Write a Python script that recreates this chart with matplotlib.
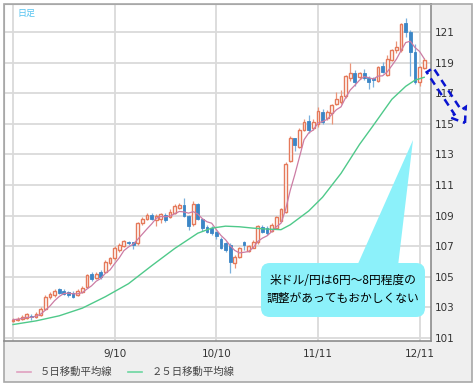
import matplotlib
matplotlib.use('Agg')
import matplotlib.pyplot as plt
import numpy as np
import pandas as pd
from matplotlib.patches import Rectangle, FancyBboxPatch, Polygon, FancyArrow
from matplotlib.lines import Line2D
from matplotlib.transforms import Affine2D

# USD/JPY daily candles, 2014-08-11 .. 2014-12-12
start_date = '2014-08-11'
end_date = '2014-12-12'

opens = [102.12, 102.18, 102.25, 102.30, 102.45, 102.35, 102.50, 102.90, 103.65, 103.80,
         104.20, 104.10, 104.03, 103.95, 103.80, 104.00, 104.35, 105.20, 104.95, 105.33,
         105.33, 105.90, 106.20, 106.75, 107.00, 107.30, 107.25, 107.20, 108.50, 108.80,
         109.05, 108.70, 108.80, 109.05, 108.93, 109.17, 109.50, 109.70, 108.95, 108.45,
         109.75, 108.75, 108.27, 108.17, 107.90, 107.50, 107.20, 107.10, 105.90, 106.30,
         107.25, 106.70, 106.90, 107.25, 108.27, 108.20, 108.00, 108.17, 108.67, 109.25,
         112.60, 114.05, 113.50, 114.60, 115.20, 114.70, 115.00, 115.80, 115.35, 115.70,
         116.30, 116.45, 116.80, 117.97, 118.30, 118.08, 118.30, 117.97, 117.97, 117.80,
         118.80, 118.20, 119.20, 119.80, 119.80, 121.60, 121.00, 119.70, 117.75, 118.65]
highs = [102.30, 102.35, 102.50, 102.65, 102.55, 102.70, 103.00, 103.80, 104.00, 104.20,
         104.30, 104.20, 104.10, 104.05, 104.20, 104.40, 105.20, 105.30, 105.30, 105.45,
         106.10, 106.30, 107.00, 107.20, 107.40, 107.35, 107.30, 108.60, 108.90, 109.20,
         109.15, 109.10, 109.20, 109.15, 109.40, 109.75, 109.85, 110.15, 109.05, 109.95,
         109.85, 108.85, 108.40, 108.30, 108.00, 107.60, 107.30, 107.20, 106.40, 106.95,
         107.35, 107.10, 107.40, 108.40, 108.40, 108.30, 108.50, 109.00, 109.50, 112.50,
         114.20, 114.10, 114.70, 115.30, 115.55, 115.30, 116.10, 115.95, 115.90, 116.30,
         117.10, 117.20, 118.20, 118.95, 118.50, 118.40, 118.55, 118.10, 118.05, 118.80,
         119.05, 119.50, 119.90, 120.40, 121.60, 121.90, 121.10, 120.20, 118.80, 119.30]
lows = [102.05, 102.10, 102.15, 102.25, 102.15, 102.30, 102.45, 102.85, 103.55, 103.70,
        103.85, 103.80, 103.70, 103.60, 103.75, 103.95, 104.30, 104.70, 104.85, 104.85,
        105.25, 105.80, 106.10, 106.65, 106.95, 107.10, 106.80, 107.10, 108.40, 108.70,
        108.70, 108.30, 108.50, 108.60, 108.85, 109.10, 109.40, 108.90, 108.05, 108.35,
        108.70, 108.00, 107.85, 107.75, 107.50, 106.80, 106.60, 105.25, 105.55, 106.20,
        106.75, 106.60, 106.85, 107.15, 107.85, 107.70, 107.90, 108.10, 108.60, 109.15,
        112.50, 113.20, 113.40, 114.50, 114.40, 114.60, 114.80, 115.00, 115.25, 115.00,
        116.20, 116.30, 116.70, 117.80, 117.50, 117.90, 117.85, 117.25, 117.40, 117.70,
        118.30, 118.10, 119.10, 119.60, 119.70, 120.70, 118.10, 117.60, 117.45, 118.55]
closes = [102.20, 102.25, 102.40, 102.55, 102.35, 102.60, 102.90, 103.70, 103.90, 104.10,
          103.95, 103.90, 103.80, 103.70, 104.10, 104.30, 105.10, 104.85, 105.20, 105.00,
          106.00, 106.20, 106.90, 107.10, 107.35, 107.20, 107.10, 108.50, 108.80, 109.05,
          108.80, 108.97, 109.10, 108.70, 109.25, 109.60, 109.70, 108.95, 108.30, 109.75,
          108.80, 108.17, 107.95, 107.85, 107.67, 106.90, 106.75, 106.00, 106.30, 106.86,
          107.10, 107.00, 107.30, 108.30, 107.95, 107.84, 108.40, 108.90, 109.40, 112.40,
          114.10, 113.60, 114.60, 115.10, 114.60, 115.10, 115.85, 115.10, 115.80, 116.20,
          116.65, 116.80, 118.10, 118.30, 117.75, 118.30, 117.97, 117.75, 117.86, 118.70,
          118.40, 119.25, 119.80, 120.00, 121.50, 121.00, 119.70, 117.75, 118.70, 119.15]

# 25-day moving average (candle index, value)
ma25_idx = [0, 5, 10, 15, 20, 25, 30, 35, 40, 43, 46, 49, 52, 55, 58, 60, 62, 64, 67, 71, 75,
            78, 82, 85, 87, 89]
ma25_val = [101.88, 102.12, 102.45, 102.95, 103.70, 104.55, 105.72, 106.85, 107.85, 108.18,
            108.31, 108.27, 108.18, 108.12, 108.08, 108.40, 108.85, 109.30, 110.20, 111.76,
            113.65, 114.90, 116.60, 117.45, 117.85, 118.04]

grid_dates = ['2014-08-11', '2014-09-10', '2014-10-10', '2014-11-11', '2014-12-11']
y_ticks = [101, 103, 105, 107, 109, 111, 113, 115, 117, 119, 121]

legend_labels = ['５日移動平均線', '２５日移動平均線']
note_lines = ['米ドル/円は6円～8円程度の', '調整があってもおかしくない']
corner_label = '日足'

UP_EDGE = '#e5795a'
UP_WICK = '#eb9478'
DOWN_FACE = '#3b86c6'
DOWN_WICK = '#7ab0dd'
MA5_COLOR = '#cc7ca4'
MA25_COLOR = '#4fc98a'
JP_FONT = ['Noto Sans CJK JP', 'DejaVu Sans']


def drawChart():
    W, H = 475, 387
    fig = plt.figure(figsize=(W / 100, H / 100), dpi=100)
    fig.patch.set_facecolor('white')
    # image pixel coords (origin top-left) -> display
    img = Affine2D().scale(0.01, -0.01).translate(0, H / 100) + fig.dpi_scale_trans

    # outer grey panel
    fig.add_artist(Rectangle((4, 4), 468, 378, transform=img, facecolor='#efefef',
                             edgecolor='#a8a8a8', linewidth=1.2, zorder=0))

    x0, step = 13.0, 4.62
    ax = fig.add_axes([4 / W, 1 - 341 / H, 427 / W, 337 / H])
    ax.set_facecolor('white')
    ax.set_zorder(1)

    dates = pd.bdate_range(start_date, end_date)
    idx = np.arange(len(dates))
    o = np.array(opens)
    h = np.array(highs)
    l = np.array(lows)
    c = np.array(closes)
    up = c >= o

    # candles
    ax.vlines(idx[up], l[up], h[up], colors=UP_WICK, linewidth=0.9, zorder=3)
    ax.vlines(idx[~up], l[~up], h[~up], colors=DOWN_WICK, linewidth=0.9, zorder=3)
    body = np.maximum(np.abs(c - o), 0.04)
    bottom = np.minimum(o, c)
    ax.bar(idx[up], body[up], bottom=bottom[up], width=0.6, color='white',
           edgecolor=UP_EDGE, linewidth=1.0, zorder=4)
    ax.bar(idx[~up], body[~up], bottom=bottom[~up], width=0.6, color=DOWN_FACE,
           edgecolor=DOWN_FACE, linewidth=0.6, zorder=4)

    # moving averages
    ma5 = pd.Series(c).rolling(5, min_periods=1).mean()
    ax.plot(idx, ma5, color=MA5_COLOR, linewidth=0.9, zorder=5)
    ax.plot(ma25_idx, ma25_val, color=MA25_COLOR, linewidth=1.0, zorder=5)

    ax.set_xlim((4 - x0) / step, (431 - x0) / step)
    ax.set_ylim(121 - (341 - 32) * 20 / 306, 121 + (32 - 4) * 20 / 306)

    gpos = [dates.get_loc(pd.Timestamp(d)) for d in grid_dates]
    glab = ['' if i == 0 else '%d/%d' % (pd.Timestamp(d).month, pd.Timestamp(d).day)
            for i, d in enumerate(grid_dates)]
    ax.set_xticks(gpos)
    ax.set_xticklabels(glab)
    ax.set_yticks(y_ticks)
    ax.yaxis.tick_right()
    ax.tick_params(axis='both', length=0, labelsize=7.5, labelcolor='#333333')
    ax.tick_params(axis='x', pad=6)
    ax.tick_params(axis='y', pad=3)
    ax.grid(True, color='#dadada', linewidth=1.3, zorder=0)
    ax.set_axisbelow(True)
    for s in ['top', 'left']:
        ax.spines[s].set_color('#a8a8a8')
    for s in ['right', 'bottom']:
        ax.spines[s].set_color('#8c8c8c')
        ax.spines[s].set_linewidth(1.2)

    # corner label
    fig.text(17, 13, corner_label, transform=img, fontsize=6.5, color='#55c3f0',
             family=JP_FONT, va='center', ha='left', zorder=6)

    # callout
    fig.add_artist(Polygon([(357, 266), (398, 266), (413, 140)], closed=True, transform=img,
                           facecolor='#8cf1fa', edgecolor='none', zorder=6))
    fig.add_artist(FancyBboxPatch((261, 263), 164, 54, boxstyle='round,pad=0,rounding_size=9',
                                  transform=img, facecolor='#8cf1fa', edgecolor='none', zorder=6))
    fig.text(343, 281, note_lines[0], transform=img, fontsize=8.5, color='black',
             family=JP_FONT, ha='center', va='center', zorder=7)
    fig.text(343, 298, note_lines[1], transform=img, fontsize=8.5, color='black',
             family=JP_FONT, ha='center', va='center', zorder=7)

    # dashed arrow at the right edge
    fig.add_artist(FancyArrow(430, 70, 35, 53, width=8, head_width=19, head_length=13,
                              length_includes_head=True, transform=img, fill=False,
                              edgecolor='#0a14d0', linestyle=(0, (3, 2)), linewidth=1.8,
                              zorder=8))

    # legend
    fig.add_artist(Line2D([17, 31], [372, 372], transform=img, color='#e0a0c0', linewidth=1.2))
    fig.text(40, 372, legend_labels[0], transform=img, fontsize=7.5, color='#444444',
             family=JP_FONT, ha='left', va='center')
    fig.add_artist(Line2D([128, 142], [372, 372], transform=img, color='#6cd6a0', linewidth=1.2))
    fig.text(152, 372, legend_labels[1], transform=img, fontsize=7.5, color='#444444',
             family=JP_FONT, ha='left', va='center')

    fig.savefig('out.png', dpi=100)


if __name__ == '__main__':
    drawChart()
